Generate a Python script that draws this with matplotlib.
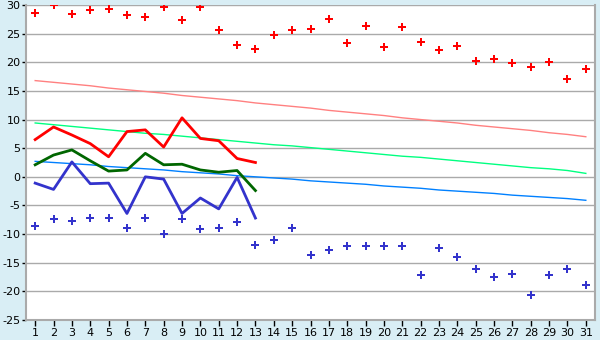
import matplotlib
matplotlib.use("Agg")
import matplotlib.pyplot as plt

plt.rcParams["axes.unicode_minus"] = False

days = list(range(1, 32))

# record highs / lows per day (points)
rec_max = [28.6, 30.0, 28.4, 29.1, 29.3, 28.3, 27.9, 29.7, 27.4, 29.7,
           25.6, 23.0, 22.3, 24.8, 25.6, 25.8, 27.6, 23.4, 26.3, 22.7,
           26.2, 23.5, 22.1, 22.8, 20.2, 20.6, 19.9, 19.2, 20.1, 17.1, 18.8]
rec_min = [-8.6, -7.4, -7.7, -7.2, -7.2, -9.0, -7.2, -10.0, -7.4, -9.1,
           -9.0, -7.9, -11.9, -11.1, -9.0, -13.7, -12.8, -12.1, -12.1, -12.1,
           -12.1, -17.2, -12.5, -14.0, -16.1, -17.5, -17.0, -20.7, -17.2, -16.1, -18.9]

# normals
norm_max = [16.8, 16.5, 16.2, 15.9, 15.5, 15.2, 14.9, 14.6, 14.2, 13.9,
            13.6, 13.3, 12.9, 12.6, 12.3, 12.0, 11.6, 11.3, 11.0, 10.7,
            10.3, 10.0, 9.7, 9.4, 9.0, 8.7, 8.4, 8.1, 7.7, 7.4, 7.0]
norm_mean = [9.4, 9.1, 8.8, 8.5, 8.2, 7.9, 7.6, 7.4, 7.1, 6.8,
             6.5, 6.2, 5.9, 5.6, 5.4, 5.1, 4.8, 4.5, 4.2, 3.9,
             3.6, 3.4, 3.1, 2.8, 2.5, 2.2, 1.9, 1.6, 1.4, 1.1, 0.6]
norm_min = [2.7, 2.5, 2.3, 2.1, 1.8, 1.6, 1.4, 1.2, 0.9, 0.7,
            0.5, 0.2, 0.0, -0.2, -0.4, -0.7, -0.9, -1.1, -1.3, -1.6,
            -1.8, -2.0, -2.3, -2.5, -2.7, -2.9, -3.2, -3.4, -3.6, -3.8, -4.1]

# current month, days 1-13
cur_days = list(range(1, 14))
cur_max = [6.5, 8.7, 7.3, 5.8, 3.5, 7.9, 8.2, 5.2, 10.3, 6.7, 6.3, 3.2, 2.5]
cur_mean = [2.1, 3.8, 4.7, 2.8, 1.0, 1.2, 4.1, 2.1, 2.2, 1.2, 0.8, 1.1, -2.4]
cur_min = [-1.1, -2.2, 2.6, -1.2, -1.1, -6.4, 0.0, -0.4, -6.4, -3.7, -5.6, -0.1, -7.2]

bg = "#d9eef5"
grey = "#aaaaaa"

fig = plt.figure(figsize=(6, 3.4), dpi=100, facecolor=bg)
ax = fig.add_axes([26 / 600, 1 - 320 / 340, 569 / 600, 315 / 340])
ax.set_facecolor("white")

ax.plot(days, norm_max, color="#ff8080", lw=1)
ax.plot(days, norm_mean, color="#00ff80", lw=1)
ax.plot(days, norm_min, color="#0080ff", lw=1)

ax.plot(cur_days, cur_max, color="#ff0000", lw=2)
ax.plot(cur_days, cur_mean, color="#006600", lw=2)
ax.plot(cur_days, cur_min, color="#3333cc", lw=2)

ax.plot(days, rec_max, ls="none", marker="P", ms=5.5, color="#ff0000", mew=0)
ax.plot(days, rec_min, ls="none", marker="P", ms=5.5, color="#3333cc", mew=0)

ax.set_xlim(0.5, 31.5)
ax.set_ylim(-25, 30)
ax.set_xticks(days)
ax.set_yticks(range(-25, 31, 5))
ax.yaxis.grid(True, color=grey, lw=1)
ax.set_axisbelow(True)
ax.tick_params(axis="both", colors="black", labelsize=8, length=4, width=1, color="black")
ax.tick_params(axis="x", pad=2)
ax.tick_params(axis="y", pad=1, length=3)
for s in ["left", "bottom", "right"]:
    ax.spines[s].set_color(grey)
    ax.spines[s].set_linewidth(1.5)
ax.spines["top"].set_visible(False)

fig.savefig("out.png", dpi=100, facecolor=bg)
